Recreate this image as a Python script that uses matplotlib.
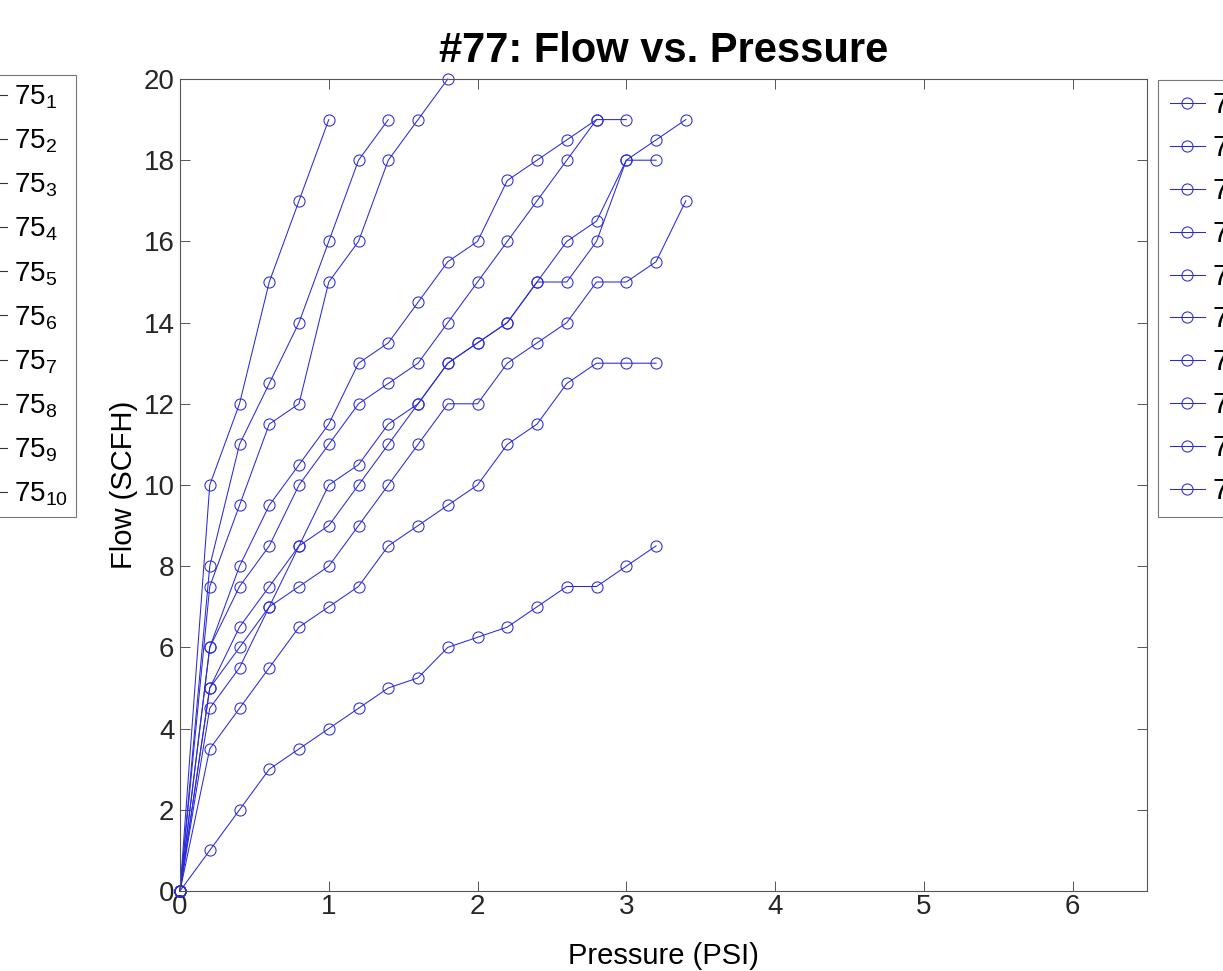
import matplotlib
matplotlib.use("Agg")
from matplotlib import pyplot as plt
from matplotlib.lines import Line2D

plt.rcParams['font.family'] = ['Liberation Sans', 'DejaVu Sans']
plt.rcParams['mathtext.fontset'] = 'custom'
plt.rcParams['mathtext.rm'] = 'Liberation Sans'
plt.rcParams['mathtext.it'] = 'Liberation Sans:italic'

# pressure grid (PSI) shared by every run
pressure = [0, 0.2, 0.4, 0.6, 0.8, 1.0, 1.2, 1.4, 1.6, 1.8,
            2.0, 2.2, 2.4, 2.6, 2.8, 3.0, 3.2, 3.4]

# flow readings (SCFH), one list per run
flow_1 = [0, 10, 12, 15, 17, 19]
flow_2 = [0, 8, 11, 12.5, 14, 16, 18, 19]
flow_3 = [0, 7.5, 9.5, 11.5, 12, 15, 16, 18, 19, 20]
flow_4 = [0, 6, 8, 9.5, 10.5, 11.5, 13, 13.5, 14.5, 15.5, 16, 17.5, 18, 18.5, 19, 19]
flow_5 = [0, 6, 7.5, 8.5, 10, 11, 12, 12.5, 13, 14, 15, 16, 17, 18, 19]
flow_6 = [0, 5, 6.5, 7.5, 8.5, 10, 10.5, 11.5, 12, 13, 13.5, 14, 15, 16, 16.5, 18, 18.5, 19]
flow_7 = [0, 5, 6, 7, 8.5, 9, 10, 11, 12, 13, 13.5, 14, 15, 15, 16, 18, 18]
flow_8 = [0, 4.5, 5.5, 7, 7.5, 8, 9, 10, 11, 12, 12, 13, 13.5, 14, 15, 15, 15.5, 17]
flow_9 = [0, 3.5, 4.5, 5.5, 6.5, 7, 7.5, 8.5, 9, 9.5, 10, 11, 11.5, 12.5, 13, 13, 13]
flow_10 = [0, 1, 2, 3, 3.5, 4, 4.5, 5, 5.25, 6, 6.25, 6.5, 7, 7.5, 7.5, 8, 8.5]

flows = [flow_1, flow_2, flow_3, flow_4, flow_5, flow_6, flow_7, flow_8, flow_9, flow_10]
labels_77 = ["77$_{%d}$" % i for i in range(1, 11)]
labels_75 = ["75$_{%d}$" % i for i in range(1, 11)]

axis_gray = '#262626'
blue = '#2a2ad8'

fig = plt.figure(figsize=(12.23, 9.71), dpi=100)
ax = fig.add_axes([180/1223, 1 - 891/971, (1147 - 180)/1223, (891 - 79)/971])

for f, lab in zip(flows, labels_77):
    ax.plot(pressure[:len(f)], f, '-o', color=blue, lw=0.75, ms=8,
            mfc='none', mew=0.75, label=lab, clip_on=False)

ax.set_xlim(0, 6.5)
ax.set_ylim(0, 20)
ax.set_xticks([0, 1, 2, 3, 4, 5, 6])
ax.set_yticks(range(0, 21, 2))
ax.tick_params(direction='in', length=7, width=0.7, colors='#555555',
               labelcolor=axis_gray, labelsize=20, top=True, right=True, pad=4)
ax.tick_params(axis='x', pad=2)
for s in ax.spines.values():
    s.set_color('#555555')
    s.set_linewidth(0.8)

ax.set_title("#77: Flow vs. Pressure", fontsize=30, fontweight='bold', pad=12)
ax.set_xlabel("Pressure (PSI)", fontsize=21, labelpad=16)
ax.set_ylabel("Flow (SCFH)", fontsize=21, labelpad=4)

# right legend (runs outside the canvas, clipped like the screenshot)
leg = ax.legend(loc='upper left', bbox_to_anchor=(1158/1223, 1 - 80/971),
                bbox_transform=fig.transFigure, fontsize=21, frameon=True,
                fancybox=False, borderpad=0.4, labelspacing=0.48,
                handlelength=1.2, handletextpad=0.25, borderaxespad=0)
leg.get_frame().set_edgecolor('#555555')
leg.get_frame().set_linewidth(0.8)

# left legend, belongs to the neighbouring plot that is cut off
handles_75 = [Line2D([0], [0], color='#333333', lw=0.8, marker='o', ms=8, mfc='none')
              for _ in labels_75]
leg2 = fig.legend(handles_75, labels_75, loc='upper right',
                  bbox_to_anchor=(76/1223, 1 - 75/971), fontsize=20,
                  fancybox=False, borderpad=0.3, labelspacing=0.6,
                  handlelength=1.6, handletextpad=0.25, borderaxespad=0)
leg2.get_frame().set_edgecolor('#555555')
leg2.get_frame().set_linewidth(0.8)

fig.savefig("out.png", dpi=100)
